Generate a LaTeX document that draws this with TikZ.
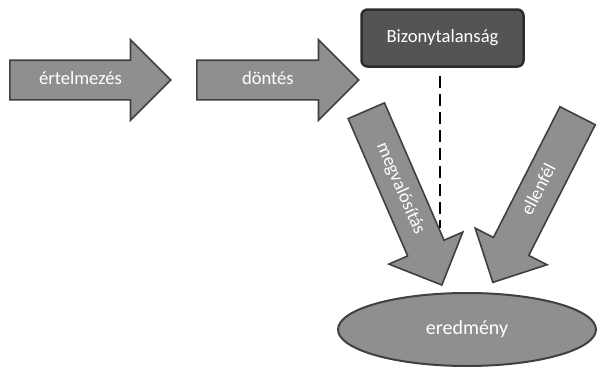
\documentclass[tikz,border=0pt]{standalone}
\usepackage{fontspec}
\setmainfont{Carlito}
\usetikzlibrary{shapes.arrows,shapes.geometric}
\definecolor{arrowgray}{RGB}{143,143,143}
\definecolor{edgegray}{RGB}{64,64,64}
\definecolor{boxgray}{RGB}{84,84,86}
\definecolor{boxedge}{RGB}{45,45,45}
\begin{document}
\begin{tikzpicture}[x=1pt,y=-1pt]
	\tikzstyle{flow} = [draw=edgegray, fill=arrowgray, line width=1.6pt, single arrow, single arrow head extend=20.5pt, single arrow tip angle=90, minimum height=161pt, inner xsep=0pt, inner ysep=10.5pt, text height=13pt, text depth=4pt, text=white, anchor=tail, font={\fontsize{18.6}{20}\selectfont}]
	\tikzstyle{box} = [draw=boxedge, fill=boxgray, rectangle, rounded corners=6pt, line width=2.5pt, minimum width=162pt, minimum height=57pt, text=white, font={\fontsize{18.6}{20}\selectfont}]
	\tikzstyle{outcome} = [draw=edgegray, fill=arrowgray, ellipse, line width=2pt, minimum width=258pt, minimum height=73pt, text=white, font={\fontsize{20}{22}\selectfont}]
	\useasboundingbox (0,0) rectangle (598,367);

	\node[flow] (interpret) at (9,80) {értelmezés};
	\node[flow, minimum height=162pt] (decide) at ([xshift=187pt]interpret.tail) {döntés};
	\node[box] (uncertainty) at (442.5,38) {Bizonytalanság};

	\node[flow, rotate=-66.57, minimum height=190pt] (implement) at (366,110) {megvalósítás};
	\node[flow, rotate=63.03, shape border rotate=180, minimum height=187pt] (opponent) at (578,115) {ellenfél};
	\node[outcome] (result) at (467,329.5) {eredmény};

	\coordinate (dashend) at (440,228);
	\draw[line width=1.2pt, dash pattern=on 12pt off 6pt] ([yshift=-8pt]uncertainty.south -| dashend) -- (dashend);
\end{tikzpicture}
\end{document}
